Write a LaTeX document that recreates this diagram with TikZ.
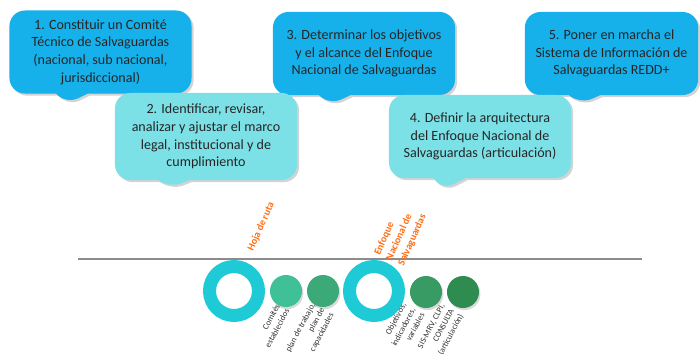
\documentclass[tikz,border=0pt]{standalone}
\usepackage{fontspec}
\setmainfont{Carlito}
\usetikzlibrary{shapes.callouts,shadows}

\definecolor{calloutblue}{RGB}{22,176,234}
\definecolor{calloutcyan}{RGB}{124,224,231}
\definecolor{ringcyan}{RGB}{30,202,214}
\definecolor{dotA}{RGB}{64,192,150}
\definecolor{dotB}{RGB}{60,170,120}
\definecolor{dotC}{RGB}{56,155,100}
\definecolor{dotD}{RGB}{46,140,80}
\definecolor{tagorange}{RGB}{255,108,20}

\tikzset{
  bubble/.style={rectangle callout, rounded corners=11pt, text=black!85,
    align=center, font=\fontsize{10}{12.6}\selectfont,
    minimum width=4.55cm, minimum height=2.075cm, inner sep=2pt,
    callout pointer width=0.8cm,
    drop shadow={opacity=0.35, shadow xshift=1.5pt, shadow yshift=-1.5pt}},
  ring/.style={circle, draw=ringcyan, fill=white, line width=0.325cm, minimum size=1.225cm,
    inner sep=0pt, drop shadow={opacity=0.3, shadow xshift=1pt, shadow yshift=-1.5pt}},
  dot/.style={circle, minimum size=0.8cm, inner sep=0pt,
    drop shadow={opacity=0.3, shadow xshift=1pt, shadow yshift=-1.5pt}},
  tag/.style={text=tagorange, font=\fontsize{7.2}{9.3}\selectfont\bfseries,
    rotate=66, align=left, inner sep=0pt},
  note/.style={text=black!80, font=\fontsize{6}{7.5}\selectfont,
    rotate=62, align=right, inner sep=0pt, anchor=north east}
}

\begin{document}
\begin{tikzpicture}[x=0.025cm,y=-0.025cm]
  \useasboundingbox (0,0) rectangle (700,357);

  \node[bubble,fill=calloutblue,callout absolute pointer={(64,105)}] (s1) at (100.5,52)
    {1. Constituir un Comité\\Técnico de Salvaguardas\\(nacional, sub nacional,\\jurisdiccional)};
  \node[bubble,fill=calloutblue,callout absolute pointer={(327,106)}] (s3) at (364,53.5)
    {3. Determinar los objetivos\\y el alcance del Enfoque\\Nacional de Salvaguardas};
  \node[bubble,fill=calloutblue,minimum width=4.33cm,callout absolute pointer={(578,105)}] (s5) at (611.5,53.5)
    {5. Poner en marcha el\\Sistema de Información de\\Salvaguardas REDD+};
  \node[bubble,fill=calloutcyan,minimum height=2.175cm,callout absolute pointer={(167,189)}] (s2) at (206,136.5)
    {2. Identificar, revisar,\\analizar y ajustar el marco\\legal, institucional y de\\cumplimiento};
  \node[bubble,fill=calloutcyan,callout absolute pointer={(440,191)}] (s4) at (480,136.5)
    {4. Definir la arquitectura\\del Enfoque Nacional de\\Salvaguardas (articulación)};

  \coordinate (left) at (78,259);
  \coordinate (right) at (642,259);
  \draw[black!45, line width=0.9pt] (left) -- (right);

  \node[ring] (r1) at (234,291) {};
  \node[ring] (r2) at (374,291) {};
  \node[dot,fill=dotA] (c1) at (286,291) {};
  \node[dot,fill=dotB] (c2) at (323,291) {};
  \node[dot,fill=dotC] (c3) at (426,292) {};
  \node[dot,fill=dotD] (c4) at (463,292) {};

  \node[tag,anchor=base west] (t1) at (253,252) {Hoja de ruta};
  \node[tag,anchor=north west] (t2) at (373,253) {Enfoque\\Nacional de\\Salvaguardas};

  \node[note] (n1) at (275,303) {Comités\\establecidos};
  \node[note] (n2) at (310,302) {plan de trabajo,\\plan de\\capacidades};
  \node[note] (n3) at (401,302) {Objetivos,\\indicadores,\\variables};
  \node[note] (n4) at (440,303) {SIS-MRV, CLPI,\\CONSULTA\\(articulación)};
\end{tikzpicture}
\end{document}
